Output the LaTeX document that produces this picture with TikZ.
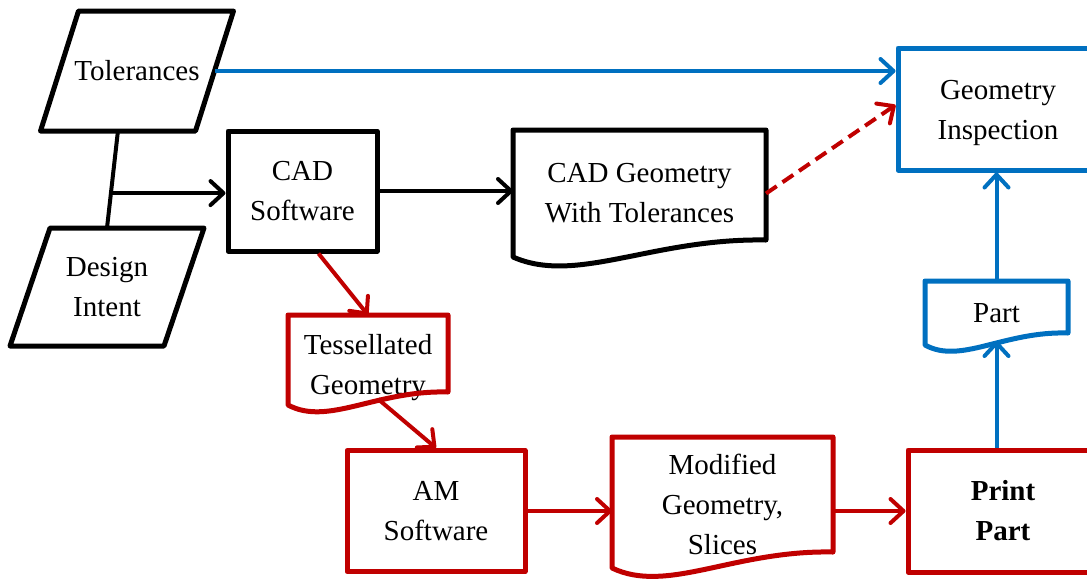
\documentclass[tikz,border=0pt]{standalone}
\usepackage{fontspec}
\setmainfont{Liberation Serif}
\usetikzlibrary{arrows.meta,calc}
\definecolor{cblue}{HTML}{0070C0}
\definecolor{cred}{HTML}{C00000}
\newcommand\docframe[3]{%
  \draw[line width=5pt,line join=round,#3] let \p1=(#1.south west), \p2=(#1.north east), \n1={\x2-\x1} in
    (\x1,\y2) -- (\x2,\y2) -- (\x2,{\y1+#2})
    .. controls ({\x2-0.45*\n1},{\y1+#2+2pt}) and ({\x1+0.25*\n1},{\y1-1.65*#2}) ..
    (\x1,\y1) -- cycle;}
\newcommand\paraframe[2]{%
  \draw[line width=5pt,line join=round] ([xshift=#2]#1.north west) -- ([xshift=#2]#1.north east)
    -- ([xshift=-#2]#1.south east) -- ([xshift=-#2]#1.south west) -- cycle;}
\begin{document}
\begin{tikzpicture}[x=1pt,y=-1pt,
  font=\fontsize{29}{40}\selectfont,
  box/.style={draw,rectangle,line width=5pt,inner sep=0pt,align=center,line join=round},
  docn/.style={rectangle,inner sep=0pt,outer sep=0pt,align=center},
  conn/.style={line width=4pt,-{Straight Barb[length=13pt,width=24pt,line cap=round,line join=round]}}]
\path[use as bounding box,clip] (0,0) rectangle (1087,582);

% parallelograms (node = mid-height rectangle, frame slanted around it)
\node[docn,minimum width=155pt,minimum height=120pt] (tol) at (137,71) {Tolerances};
\paraframe{tol}{19pt}
\node[docn,minimum width=154pt,minimum height=118pt] (di) at (107,287) {Design\\Intent};
\paraframe{di}{20pt}

% rectangles
\node[box,minimum width=149pt,minimum height=120pt] (cad) at (302.5,191) {CAD\\Software};
\node[box,cblue,text=black,minimum width=200pt,minimum height=122pt] (geo) at (998,109) {\rule{0pt}{28pt}Geometry\\Inspection};
\node[box,cred,text=black,minimum width=178pt,minimum height=121pt] (am) at (436,511) {AM\\Software};
\node[box,cred,text=black,minimum width=190pt,minimum height=122pt] (print) at (1003,511) {\textbf{Print}\\\textbf{Part}};

% documents
\node[docn,minimum width=253pt,minimum height=127pt] (cadg) at (639.5,193.5) {CAD Geometry\\With Tolerances};
\docframe{cadg}{17pt}{black}
\node[docn,minimum width=160pt,minimum height=90pt] (tess) at (368,360) {\rule{0pt}{36pt}Tessellated\\Geometry};
\docframe{tess}{13pt}{cred}
\node[docn,minimum width=221pt,minimum height=131pt] (mod) at (722.5,502.5) {\rule{0pt}{24pt}Modified\\Geometry,\\Slices};
\docframe{mod}{16pt}{cred}
\node[docn,minimum width=143pt,minimum height=64pt] (part) at (996.5,313) {Part};
\docframe{part}{12pt}{cblue}

% connectors
\coordinate (tbot) at ($(tol.south west)!0.377!(tol.south east)$);
\draw[line width=4pt] (tbot) -- (di.north);
\coordinate (j) at ($(tbot)!0.64!(di.north)$);
\draw[conn] (j) -- (j -| cad.west);
\draw[conn] (cad.east) -- (cad.east -| cadg.west);
\draw[conn,cblue] (tol.east) -- (tol.east -| geo.west);
\draw[conn,cred,dash pattern=on 13pt off 7pt] (cadg.east) -- ([yshift=4pt]geo.west);
\draw[conn,cred] ([xshift=16pt]cad.south) -- (tess.north);
\draw[conn,cred] ([xshift=10pt,yshift=6pt]tess.south) -- (am.north);
\draw[conn,cred] (am.east) -- (am.east -| mod.west);
\draw[conn,cred] (mod.east |- print.west) -- (print.west);
\draw[conn,cblue] (part.south |- print.north) -- ([yshift=4pt]part.south);
\draw[conn,cblue] (part.north) -- (part.north |- geo.south);
\end{tikzpicture}
\end{document}
